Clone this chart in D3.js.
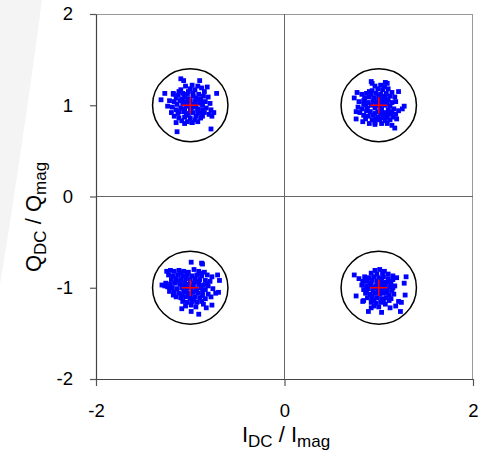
<!DOCTYPE html>
<html>
<head>
<meta charset="utf-8">
<script src="https://cdn.jsdelivr.net/npm/d3@7"></script>
<style>
  html, body { margin: 0; padding: 0; background: #fff; }
  svg { display: block; }
</style>
</head>
<body>
<div id="chart"></div>
<script>
// QPSK constellation: received I/Q samples around the four ideal symbols.
const axisTicksI = [-2, 0, 2];
const axisTicksQ = [-2, -1, 0, 1, 2];

// Ideal symbol locations (red crosses) and decision circle radius
const symbolI = [-1, 1, -1, 1];
const symbolQ = [1, 1, -1, -1];
const decisionRadius = 0.4;
const crossHalf = 0.09;

// Received samples, [I, Q], one list per symbol
const samplesUpperLeft = [
  [-1.10,1.29],[-1.07,1.27],[-0.90,1.27],[-0.82,1.20],[-0.72,1.13],[-1.27,1.13],[-1.31,1.06],[-1.18,1.13],
  [-0.77,0.88],[-0.75,0.92],[-1.15,0.81],[-1.06,0.80],[-0.98,0.81],[-1.14,0.71],[-0.78,0.74],
  [-1.05,1.21],[-0.98,1.22],[-0.92,1.21],[-0.88,1.19],[-1.10,1.17],[-1.00,1.18],[-0.95,1.17],[-0.85,1.15],[-1.02,1.15],
  [-1.18,1.12],[-1.13,1.11],[-1.08,1.13],[-1.03,1.12],[-0.97,1.13],[-0.91,1.12],[-0.86,1.10],[-0.81,1.09],
  [-1.15,1.08],[-1.06,1.09],[-0.94,1.08],[-0.89,1.07],
  [-1.22,1.05],[-1.17,1.04],[-1.11,1.05],[-1.05,1.04],[-1.00,1.05],[-0.95,1.04],[-0.90,1.03],[-0.84,1.04],
  [-0.79,1.02],[-1.14,1.01],[-1.08,1.02],[-0.98,1.01],[-0.87,1.00],
  [-1.24,0.99],[-1.19,0.98],[-1.10,0.97],[-1.04,0.99],[-0.96,0.98],[-0.92,0.96],[-0.83,0.97],[-0.78,0.95],
  [-1.15,0.95],[-1.00,0.95],
  [-1.20,0.92],[-1.13,0.91],[-1.07,0.93],[-1.02,0.91],[-0.97,0.92],[-0.90,0.91],[-0.85,0.92],[-0.80,0.90],
  [-1.17,0.88],[-0.94,0.88],
  [-1.12,0.86],[-1.06,0.87],[-1.00,0.86],[-0.95,0.84],[-0.89,0.86],[-1.09,0.83],[-1.03,0.82],[-0.98,0.81],[-0.92,0.82],
  [-1.02,1.07],[-0.93,1.06],[-1.09,1.07],[-0.88,1.02],[-1.06,0.96],[-0.99,0.97],[-0.87,0.95],[-1.12,0.93],
  [-1.04,0.89],[-0.92,0.93],[-0.97,1.10],[-1.12,1.15],[-0.87,0.88],[-1.03,1.01],[-0.94,1.00]
];
const samplesUpperRight = [
  [0.92,1.26],[0.93,1.24],[1.07,1.25],[1.09,1.24],[1.21,1.15],[0.77,1.14],[0.74,1.08],[0.76,0.93],
  [0.76,0.85],[0.83,0.82],[1.17,0.75],[1.27,0.99],[1.25,0.96],[0.90,0.80],[0.96,0.79],[1.19,0.85],
  [0.96,1.21],[1.02,1.22],[1.06,1.20],[0.99,1.18],[1.04,1.17],[1.10,1.18],[0.93,1.16],[1.14,1.14],
  [0.82,1.12],[0.87,1.13],[0.92,1.12],[0.97,1.13],[1.02,1.12],[1.08,1.13],[1.12,1.10],[1.17,1.09],
  [0.85,1.08],[0.90,1.09],[0.95,1.08],[1.00,1.07],[1.05,1.08],[1.10,1.06],
  [0.79,1.04],[0.84,1.05],[0.89,1.03],[0.94,1.04],[0.99,1.03],[1.04,1.04],[1.09,1.02],[1.14,1.03],[1.18,1.04],
  [0.86,1.00],[0.92,1.00],[1.01,0.99],[1.07,1.00],[1.12,0.99],
  [0.78,0.98],[0.82,0.96],[0.88,0.97],[0.96,0.97],[1.03,0.96],[1.10,0.95],[1.16,0.96],[1.21,0.94],
  [0.80,0.92],[0.91,0.93],[0.99,0.93],[1.06,0.92],[1.13,0.91],[1.18,0.90],
  [0.84,0.89],[0.89,0.88],[0.94,0.89],[0.99,0.87],[1.04,0.88],[1.09,0.87],[1.15,0.87],
  [0.86,0.85],[0.93,0.84],[1.01,0.84],[1.07,0.83],[1.12,0.84],
  [0.96,0.81],[1.03,0.80],[1.09,0.80],[1.14,0.78],
  [0.97,1.00],[1.04,1.01],[0.95,1.05],[1.06,1.05],[0.87,0.94],[1.02,0.91],[1.10,0.90],[0.96,0.91],
  [1.00,1.10],[1.07,1.10],[0.90,1.15],[1.14,0.93],[0.84,1.01],[0.97,0.85],[1.05,0.86]
];
const samplesLowerLeft = [
  [-0.99,-0.72],[-0.88,-0.73],[-0.87,-0.74],[-1.30,-0.97],[-1.27,-0.98],[-0.69,-0.92],[-0.71,-0.86],[-0.73,-1.06],
  [-0.70,-1.05],[-0.91,-1.29],[-0.99,-1.26],[-1.09,-1.23],[-0.77,-1.19],[-0.83,-1.22],[-0.78,-1.10],
  [-1.25,-0.82],[-1.21,-0.81],[-1.17,-0.82],[-1.12,-0.81],[-1.07,-0.82],[-1.02,-0.83],[-0.96,-0.80],[-0.91,-0.82],[-0.85,-0.83],
  [-1.23,-0.86],[-1.18,-0.87],[-1.13,-0.86],[-1.08,-0.87],[-1.03,-0.86],[-0.98,-0.87],[-0.93,-0.86],[-0.88,-0.87],
  [-0.82,-0.86],[-0.77,-0.88],[-1.20,-0.91],[-1.15,-0.90],[-1.10,-0.91],[-1.05,-0.90],[-1.00,-0.91],[-0.95,-0.90],
  [-0.90,-0.91],[-0.84,-0.92],[-0.79,-0.93],
  [-1.26,-0.95],[-1.21,-0.96],[-1.16,-0.95],[-1.11,-0.96],[-1.06,-0.95],[-1.01,-0.96],[-0.96,-0.95],[-0.91,-0.96],
  [-0.86,-0.97],[-0.81,-0.98],[-1.19,-1.00],[-1.14,-1.01],[-1.09,-1.00],[-1.04,-1.01],[-0.99,-1.00],[-0.94,-1.01],
  [-0.89,-1.00],[-0.84,-1.02],[-0.76,-1.01],
  [-1.22,-1.04],[-1.17,-1.05],[-1.12,-1.06],[-1.07,-1.05],[-1.02,-1.06],[-0.97,-1.05],[-0.92,-1.06],[-0.87,-1.05],
  [-0.81,-1.07],[-1.15,-1.10],[-1.10,-1.11],[-1.05,-1.10],[-1.00,-1.11],[-0.95,-1.10],[-0.90,-1.11],[-0.84,-1.12],
  [-1.08,-1.15],[-1.03,-1.16],[-0.98,-1.15],[-0.93,-1.16],[-0.88,-1.15],[-1.05,-1.20],[-0.99,-1.19],[-0.94,-1.21],[-0.86,-1.18],
  [-1.02,-0.98],[-0.97,-0.98],[-1.07,-0.98],[-0.92,-0.93],[-1.13,-0.93],[-1.00,-1.08],[-1.09,-1.08],[-0.93,-1.03],
  [-0.87,-1.09],[-1.18,-1.08],[-0.82,-0.95],[-1.24,-0.99],[-0.96,-1.13],[-1.10,-0.84],[-0.90,-0.84]
];
const samplesLowerRight = [
  [0.74,-0.86],[0.79,-0.90],[1.29,-0.88],[1.27,-0.95],[0.76,-1.09],[0.83,-1.15],[0.84,-1.14],[1.24,-1.16],
  [1.21,-1.15],[1.23,-1.26],[1.03,-1.27],[0.89,-1.26],[1.28,-1.08],[0.92,-1.22],[1.12,-1.22],[1.18,-1.20],
  [0.96,-0.81],[1.01,-0.80],[1.06,-0.82],[0.92,-0.84],[0.98,-0.85],[1.04,-0.84],[1.10,-0.85],[1.15,-0.87],
  [0.85,-0.88],[0.90,-0.89],[0.95,-0.88],[1.00,-0.89],[1.05,-0.88],[1.10,-0.90],[1.15,-0.91],[1.19,-0.89],
  [0.83,-0.93],[0.88,-0.93],[0.93,-0.92],[0.98,-0.93],[1.03,-0.93],[1.08,-0.94],[1.13,-0.95],
  [0.82,-0.97],[0.87,-0.98],[0.92,-0.97],[0.97,-0.98],[1.02,-0.97],[1.07,-0.98],[1.12,-0.99],[1.17,-0.98],
  [0.84,-1.02],[0.89,-1.01],[0.94,-1.03],[0.99,-1.02],[1.04,-1.03],[1.09,-1.02],[1.14,-1.03],
  [0.86,-1.06],[0.91,-1.07],[0.96,-1.06],[1.01,-1.07],[1.06,-1.06],[1.11,-1.08],[1.16,-1.07],
  [0.88,-1.11],[0.93,-1.12],[0.98,-1.11],[1.03,-1.12],[1.08,-1.11],[1.13,-1.12],
  [0.92,-1.16],[0.97,-1.17],[1.02,-1.16],[1.07,-1.18],[1.00,-1.21],[0.95,-1.20],
  [0.99,-0.96],[1.04,-1.00],[0.96,-1.00],[1.07,-0.95],[0.91,-0.95],[1.00,-1.05],[1.09,-1.05],[0.93,-1.09],
  [1.05,-1.14],[0.87,-1.03],[1.15,-1.00],[1.01,-0.91],[1.12,-0.93],[0.95,-1.14],[1.11,-1.14]
];

const W = 484, H = 452;
const plotLeft = 96, plotRight = 473, plotTop = 14, plotBottom = 379;

const svg = d3.select("#chart").append("svg")
  .attr("width", W).attr("height", H);

// faint backdrop shape at the left edge
svg.append("path")
  .attr("d", "M0,0 L42,0 Q22,150 0,285 Z")
  .attr("fill", "#f4f4f4");

const x = d3.scaleLinear().domain([-2, 2]).range([plotLeft, plotRight]);
const y = d3.scaleLinear().domain([-2, 2]).range([plotBottom, plotTop]);

const fontFamily = "Arial, 'Liberation Sans', Helvetica, sans-serif";

// frame (top/right) and zero lines
svg.append("line").attr("x1", plotLeft).attr("x2", plotRight).attr("y1", plotTop + 0.5).attr("y2", plotTop + 0.5)
  .attr("stroke", "#999").attr("stroke-width", 1);
svg.append("line").attr("x1", plotRight - 0.5).attr("x2", plotRight - 0.5).attr("y1", plotTop).attr("y2", plotBottom)
  .attr("stroke", "#999").attr("stroke-width", 1);
svg.append("line").attr("x1", plotLeft).attr("x2", plotRight).attr("y1", y(0)).attr("y2", y(0))
  .attr("stroke", "#666").attr("stroke-width", 1);
svg.append("line").attr("x1", x(0)).attr("x2", x(0)).attr("y1", plotTop).attr("y2", plotBottom)
  .attr("stroke", "#666").attr("stroke-width", 1);

// axes
const xAxis = svg.append("g")
  .attr("transform", `translate(0,${plotBottom})`)
  .call(d3.axisBottom(x).tickValues(axisTicksI).tickSize(7).tickSizeOuter(0).tickFormat(d => String(d)));
const yAxis = svg.append("g")
  .attr("transform", `translate(${plotLeft},0)`)
  .call(d3.axisLeft(y).tickValues(axisTicksQ).tickSize(6).tickSizeOuter(0).tickFormat(d => String(d)));

[xAxis, yAxis].forEach(g => {
  g.select(".domain").attr("stroke", "#444").attr("stroke-width", 1.2);
  g.selectAll(".tick line").attr("stroke", "#555").attr("stroke-width", 1.2);
  g.selectAll(".tick text")
    .attr("font-family", fontFamily).attr("font-size", 18.5).attr("fill", "#000");
});
xAxis.selectAll(".tick text").attr("y", 25).attr("dy", "0.71em");
yAxis.selectAll(".tick text").attr("x", -23);

// samples
const allSamples = [samplesUpperLeft, samplesUpperRight, samplesLowerLeft, samplesLowerRight];
const sq = 4.8;
allSamples.forEach(set => {
  svg.append("g").selectAll("rect").data(set).join("rect")
    .attr("x", d => x(d[0]) - sq / 2)
    .attr("y", d => y(d[1]) - sq / 2)
    .attr("width", sq).attr("height", sq)
    .attr("fill", "#0000ff");
});

// decision circles and ideal symbol crosses
const symbols = symbolI.map((v, i) => ({ i: v, q: symbolQ[i] }));
svg.append("g").selectAll("ellipse").data(symbols).join("ellipse")
  .attr("cx", d => x(d.i)).attr("cy", d => y(d.q))
  .attr("rx", d => x(d.i + decisionRadius) - x(d.i))
  .attr("ry", d => y(d.q) - y(d.q + decisionRadius))
  .attr("fill", "none").attr("stroke", "#000").attr("stroke-width", 1.5);

const crosses = svg.append("g").attr("stroke", "#ff0000").attr("stroke-width", 1.5);
crosses.selectAll("line.h").data(symbols).join("line").attr("class", "h")
  .attr("x1", d => x(d.i - crossHalf)).attr("x2", d => x(d.i + crossHalf))
  .attr("y1", d => y(d.q)).attr("y2", d => y(d.q));
crosses.selectAll("line.v").data(symbols).join("line").attr("class", "v")
  .attr("x1", d => x(d.i)).attr("x2", d => x(d.i))
  .attr("y1", d => y(d.q - crossHalf)).attr("y2", d => y(d.q + crossHalf));

// axis titles with subscripts
const mainSize = 22, subSize = 17, subShift = 5;
const xTitle = svg.append("text")
  .attr("x", 286).attr("y", 442)
  .attr("text-anchor", "middle")
  .attr("font-family", fontFamily).attr("font-size", mainSize).attr("fill", "#000");
xTitle.append("tspan").text("I");
xTitle.append("tspan").attr("font-size", subSize).attr("dy", subShift).text("DC");
xTitle.append("tspan").attr("dy", -subShift).text(" / I");
xTitle.append("tspan").attr("font-size", subSize).attr("dy", subShift).text("mag");

const yTitle = svg.append("text")
  .attr("transform", `translate(41,217) rotate(-90)`)
  .attr("text-anchor", "middle")
  .attr("font-family", fontFamily).attr("font-size", mainSize).attr("fill", "#000");
yTitle.append("tspan").text("Q");
yTitle.append("tspan").attr("font-size", subSize).attr("dy", subShift).text("DC");
yTitle.append("tspan").attr("dy", -subShift).text(" / Q");
yTitle.append("tspan").attr("font-size", subSize).attr("dy", subShift).text("mag");
</script>
</body>
</html>
